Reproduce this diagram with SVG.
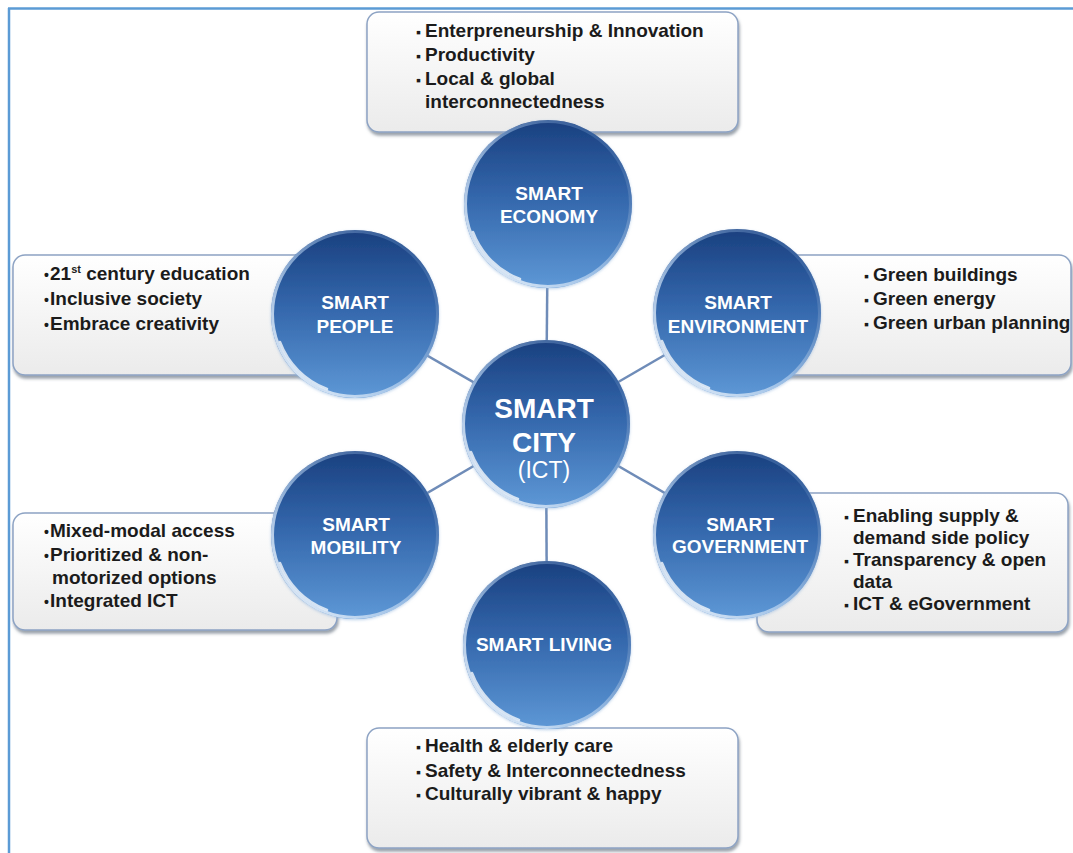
<svg xmlns="http://www.w3.org/2000/svg" width="1073" height="853" viewBox="0 0 1073 853">
<defs>
<linearGradient id="boxg" x1="0" y1="0" x2="0" y2="1">
<stop offset="0" stop-color="#ffffff"/>
<stop offset="1" stop-color="#ebebeb"/>
</linearGradient>
<linearGradient id="orbg" x1="0" y1="0" x2="0" y2="1">
<stop offset="0" stop-color="#1a407f"/>
<stop offset="0.45" stop-color="#3366ab"/>
<stop offset="1" stop-color="#5e98d6"/>
</linearGradient>
<linearGradient id="rimg" x1="0" y1="1" x2="1" y2="0">
<stop offset="0" stop-color="#ffffff" stop-opacity="0.95"/>
<stop offset="0.45" stop-color="#b5d0ee" stop-opacity="0.7"/>
<stop offset="1" stop-color="#2c5a9c" stop-opacity="0.4"/>
</linearGradient>
<filter id="sh" x="-5%" y="-5%" width="110%" height="120%">
<feDropShadow dx="1" dy="3" stdDeviation="1.8" flood-color="#4a5566" flood-opacity="0.55"/>
</filter>
<filter id="osh" x="-10%" y="-10%" width="120%" height="120%">
<feDropShadow dx="0" dy="1" stdDeviation="1.5" flood-color="#8fb3dc" flood-opacity="0.6"/>
</filter>
</defs>
<style>
.box{fill:url(#boxg);stroke:#8da3c4;stroke-width:1.5;filter:url(#sh)}
.bt{font-family:"Liberation Sans",Arial,Helvetica,sans-serif;font-weight:bold;font-size:19px;fill:#1b1b1b}
.bul{font-size:14px}
.sup{font-size:11px}
.ct{font-family:"Liberation Sans",Arial,Helvetica,sans-serif;font-weight:bold;font-size:19px;fill:#ffffff;text-anchor:middle}
.big{font-size:28px}
.ict{font-size:23px;font-weight:normal}
.conn{stroke:#6f8cb8;stroke-width:2.5;fill:none}
.orb{fill:url(#orbg);filter:url(#osh)}
.rim{fill:none;stroke:url(#rimg);stroke-width:3}
.hl{fill:none;stroke:#ffffff;stroke-opacity:0.75;stroke-width:2.5;stroke-linecap:round}
.frame{stroke:#5b9bd5;stroke-width:2.5}
</style>

<line class="frame" x1="8" y1="8.5" x2="1073" y2="8.5"/>
<line class="frame" x1="9" y1="8" x2="9" y2="853"/>

<g id="box-economy">
<rect class="box" x="367" y="12" width="371" height="120" rx="12"/>
<text class="bt" x="416" y="37"><tspan class="bul">▪</tspan><tspan x="425">Enterpreneurship &amp; Innovation</tspan></text>
<text class="bt" x="416" y="61"><tspan class="bul">▪</tspan><tspan x="425">Productivity</tspan></text>
<text class="bt" x="416" y="85"><tspan class="bul">▪</tspan><tspan x="425">Local &amp; global</tspan></text>
<text class="bt" x="425" y="108">interconnectedness</text>
</g>

<g id="box-people">
<rect class="box" x="13" y="255" width="367" height="120" rx="12"/>
<text class="bt" x="44" y="280"><tspan class="bul">•</tspan><tspan x="50">21</tspan><tspan class="sup" dy="-7">st</tspan><tspan dy="7"> century education</tspan></text>
<text class="bt" x="44" y="305"><tspan class="bul">•</tspan><tspan x="50">Inclusive society</tspan></text>
<text class="bt" x="44" y="330"><tspan class="bul">•</tspan><tspan x="50">Embrace creativity</tspan></text>
</g>

<g id="box-environment">
<rect class="box" x="700" y="255" width="371" height="120" rx="12"/>
<text class="bt" x="864" y="281"><tspan class="bul">▪</tspan><tspan x="873">Green buildings</tspan></text>
<text class="bt" x="864" y="305"><tspan class="bul">▪</tspan><tspan x="873">Green energy</tspan></text>
<text class="bt" x="864" y="329"><tspan class="bul">▪</tspan><tspan x="873">Green urban planning</tspan></text>
</g>

<g id="box-mobility">
<rect class="box" x="13" y="513" width="324" height="117" rx="12"/>
<text class="bt" x="44" y="537"><tspan class="bul">•</tspan><tspan x="50">Mixed-modal access</tspan></text>
<text class="bt" x="44" y="561"><tspan class="bul">•</tspan><tspan x="50">Prioritized &amp; non-</tspan></text>
<text class="bt" x="52" y="584">motorized options</text>
<text class="bt" x="44" y="607"><tspan class="bul">•</tspan><tspan x="50">Integrated ICT</tspan></text>
</g>

<g id="box-government">
<rect class="box" x="757" y="493" width="311" height="139" rx="12"/>
<text class="bt" x="844" y="522"><tspan class="bul">▪</tspan><tspan x="853">Enabling supply &amp;</tspan></text>
<text class="bt" x="853" y="544">demand side policy</text>
<text class="bt" x="844" y="566"><tspan class="bul">▪</tspan><tspan x="853">Transparency &amp; open</tspan></text>
<text class="bt" x="853" y="588">data</text>
<text class="bt" x="844" y="610"><tspan class="bul">▪</tspan><tspan x="853">ICT &amp; eGovernment</tspan></text>
</g>

<g id="box-living">
<rect class="box" x="367" y="728" width="371" height="120" rx="12"/>
<text class="bt" x="416" y="752"><tspan class="bul">▪</tspan><tspan x="425">Health &amp; elderly care</tspan></text>
<text class="bt" x="416" y="777"><tspan class="bul">▪</tspan><tspan x="425">Safety &amp; Interconnectedness</tspan></text>
<text class="bt" x="416" y="800"><tspan class="bul">▪</tspan><tspan x="425">Culturally vibrant &amp; happy</tspan></text>
</g>

<g id="connectors">
<line class="conn" x1="546" y1="424" x2="548" y2="204"/>
<line class="conn" x1="546" y1="424" x2="355" y2="314"/>
<line class="conn" x1="546" y1="424" x2="737" y2="313"/>
<line class="conn" x1="546" y1="424" x2="355" y2="535"/>
<line class="conn" x1="546" y1="424" x2="737" y2="535"/>
<line class="conn" x1="546" y1="424" x2="547" y2="645"/>
</g>

<g id="smart-economy">
<circle class="orb" cx="548" cy="204" r="84"/>
<circle class="rim" cx="548" cy="204" r="82.5"/>
<path class="hl" d="M 473 232 A 80 80 0 0 0 520 279"/>
<text class="ct" x="549" y="200">SMART</text>
<text class="ct" x="549" y="223">ECONOMY</text>
</g>

<g id="smart-people">
<circle class="orb" cx="355" cy="314" r="84"/>
<circle class="rim" cx="355" cy="314" r="82.5"/>
<path class="hl" d="M 280 342 A 80 80 0 0 0 327 389"/>
<text class="ct" x="355" y="309">SMART</text>
<text class="ct" x="355" y="333">PEOPLE</text>
</g>

<g id="smart-environment">
<circle class="orb" cx="737" cy="313" r="84"/>
<circle class="rim" cx="737" cy="313" r="82.5"/>
<path class="hl" d="M 662 341 A 80 80 0 0 0 709 388"/>
<text class="ct" x="738" y="309">SMART</text>
<text class="ct" x="738" y="333">ENVIRONMENT</text>
</g>

<g id="smart-city">
<circle class="orb" cx="546" cy="424" r="84"/>
<circle class="rim" cx="546" cy="424" r="82.5"/>
<path class="hl" d="M 471 452 A 80 80 0 0 0 518 499"/>
<text class="ct big" x="544" y="418">SMART</text>
<text class="ct big" x="544" y="452">CITY</text>
<text class="ct ict" x="544" y="478">(ICT)</text>
</g>

<g id="smart-mobility">
<circle class="orb" cx="355" cy="535" r="84"/>
<circle class="rim" cx="355" cy="535" r="82.5"/>
<path class="hl" d="M 280 563 A 80 80 0 0 0 327 610"/>
<text class="ct" x="356" y="531">SMART</text>
<text class="ct" x="356" y="554">MOBILITY</text>
</g>

<g id="smart-government">
<circle class="orb" cx="737" cy="535" r="84"/>
<circle class="rim" cx="737" cy="535" r="82.5"/>
<path class="hl" d="M 662 563 A 80 80 0 0 0 709 610"/>
<text class="ct" x="740" y="531">SMART</text>
<text class="ct" x="740" y="553">GOVERNMENT</text>
</g>

<g id="smart-living">
<circle class="orb" cx="547" cy="645" r="84"/>
<circle class="rim" cx="547" cy="645" r="82.5"/>
<path class="hl" d="M 472 673 A 80 80 0 0 0 519 720"/>
<text class="ct" x="544" y="651">SMART LIVING</text>
</g>
</svg>
